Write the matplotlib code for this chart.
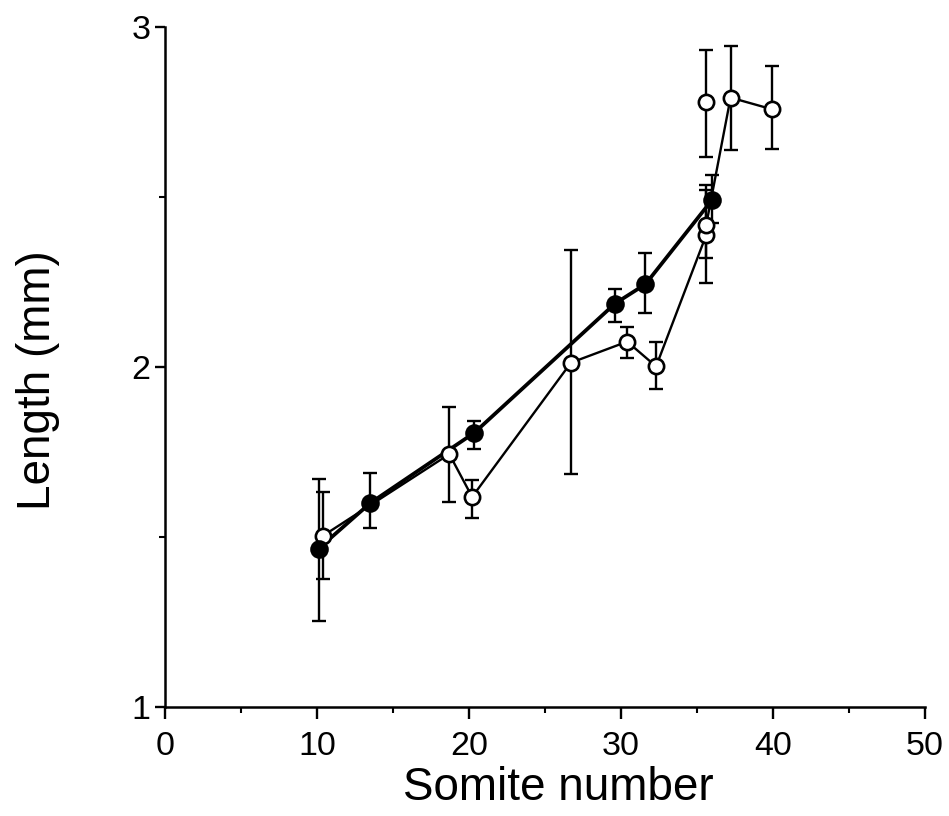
import matplotlib
matplotlib.use("Agg")
import matplotlib.pyplot as plt
from matplotlib.ticker import MultipleLocator

plt.rcParams['font.family'] = ['Liberation Sans', 'DejaVu Sans']

# Filled series (connected)
filled_x = [10.1, 13.5, 20.35, 29.6, 31.6, 36.0]
filled_y = [1.466, 1.60, 1.807, 2.187, 2.244, 2.493]
filled_lo = [1.253, 1.527, 1.76, 2.133, 2.159, 2.425]
filled_hi = [1.67, 1.687, 1.84, 2.231, 2.336, 2.564]

# Open series (connected)
open_x = [10.4, 18.7, 20.2, 26.7, 30.4, 32.3, 35.6, 35.6, 37.2, 39.9]
open_y = [1.504, 1.744, 1.618, 2.013, 2.075, 2.002, 2.389, 2.419, 2.793, 2.759]
open_lo = [1.377, 1.602, 1.556, 1.685, 2.028, 1.937, 2.247, 2.321, 2.639, 2.641]
open_hi = [1.632, 1.883, 1.668, 2.344, 2.119, 2.073, 2.52, 2.535, 2.944, 2.886]

# Open point not joined by the line
extra_x = [35.6]
extra_y = [2.78]
extra_lo = [2.617]
extra_hi = [2.933]

xticks = [0, 10, 20, 30, 40, 50]
yticks = [1, 2, 3]

fig = plt.figure(figsize=(9.49, 8.16), dpi=100)
ax = fig.add_axes([0.1739, 0.1336, 0.801, 0.833])

def err(y, lo, hi):
    return [[a - b for a, b in zip(y, lo)], [c - a for a, c in zip(y, hi)]]

ebkw = dict(ecolor='black', elinewidth=1.7, capsize=5, capthick=1.7)

ax.errorbar(open_x, open_y, yerr=err(open_y, open_lo, open_hi), fmt='none', zorder=2, **ebkw)
ax.errorbar(extra_x, extra_y, yerr=err(extra_y, extra_lo, extra_hi), fmt='none', zorder=2, **ebkw)
ax.errorbar(filled_x, filled_y, yerr=err(filled_y, filled_lo, filled_hi), fmt='none', zorder=2, **ebkw)

ax.plot(open_x, open_y, color='black', lw=1.7, zorder=3)
ax.plot(filled_x, filled_y, color='black', lw=2.7, zorder=3)

ax.plot(open_x, open_y, 'o', ms=11, mfc='white', mec='black', mew=1.9, zorder=4)
ax.plot(extra_x, extra_y, 'o', ms=11, mfc='white', mec='black', mew=1.9, zorder=4)
ax.plot(filled_x, filled_y, 'o', ms=11.5, mfc='black', mec='black', mew=1.9, zorder=5)

ax.set_xlim(0, 50)
ax.set_ylim(1, 3)
ax.set_xticks(xticks)
ax.set_yticks(yticks)
ax.xaxis.set_minor_locator(MultipleLocator(5))
ax.yaxis.set_minor_locator(MultipleLocator(0.5))

for s in ['top', 'right']:
    ax.spines[s].set_visible(False)
for s in ['left', 'bottom']:
    ax.spines[s].set_linewidth(1.8)

ax.tick_params(axis='both', which='both', direction='out', labelsize=24.5)
ax.tick_params(axis='x', which='major', length=8.5, width=1.7, pad=9)
ax.tick_params(axis='x', which='minor', length=4.5, width=1.5)
ax.tick_params(axis='y', which='major', length=7.5, width=1.7, pad=3)
ax.tick_params(axis='y', which='minor', length=4.5, width=1.5)

ax.set_xlabel('Somite number', fontsize=33)
ax.xaxis.set_label_coords(0.518, -0.0868)
ax.set_ylabel('Length (mm)', fontsize=33)
ax.yaxis.set_label_coords(-0.138, 0.481)

for sp in ax.spines.values():
    sp.set_clip_on(False)

fig.savefig('out.png', dpi=100)
